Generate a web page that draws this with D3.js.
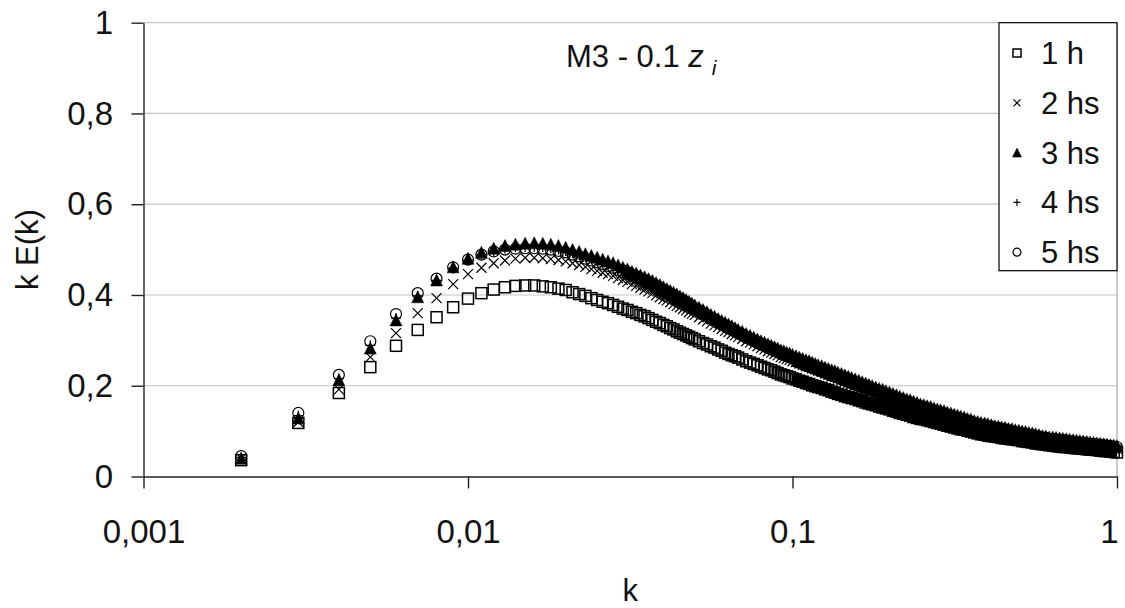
<!DOCTYPE html>
<html>
<head>
<meta charset="utf-8">
<script src="https://cdn.jsdelivr.net/npm/d3@7"></script>
<style>
  body { margin: 0; background: #fff; }
  svg { display: block; }
</style>
</head>
<body>
<div id="chart"></div>
<script>
// wavenumbers k (x axis)
const kVals = [
  0.002,0.003,0.004,0.005,0.006,0.007,0.008,0.009,0.010,0.011,0.012,0.013,0.014,0.015,0.016,0.017,0.018,0.019,0.020,
  0.021,0.022,0.023,0.024,0.025,0.026,0.027,0.028,0.029,
  0.030,0.031,0.032,0.033,0.034,0.035,0.036,0.037,0.038,0.039,0.040,0.041,0.042,0.043,0.044,0.045,0.046,0.047,0.048,0.049,0.050,
  0.0515,0.053,0.0545,0.056,0.0575,0.059,0.0605,0.062,0.0635,0.065,0.0665,0.068,
  0.070,0.072,0.074,0.076,0.078,0.080,0.082,0.084,0.086,0.088,0.090,0.092,0.094,0.096,0.098,0.100,
  0.1025,0.105,0.1075,0.110,0.1125,0.115,0.1175,0.120,
  0.123,0.126,0.129,0.132,0.135,0.138,
  0.1415,0.145,0.1485,0.152,
  0.156,0.160,0.164,0.168,0.172,0.176,
  0.1805,0.185,0.1895,0.194,0.199,0.204,0.209,0.214,0.2195,0.225,0.2305,0.236,0.242,0.248,0.254,0.260,0.2665,0.273,0.2795,0.286,0.293,0.300,
  0.3075,0.315,0.3225,0.330,0.338,0.346,0.3545,0.363,0.372,0.381,0.3905,0.400,0.410,0.420,0.4305,0.441,0.452,0.463,0.4745,0.486,
  0.498,0.510,0.5225,0.535,0.548,0.561,0.575,0.589,0.6035,0.618,0.6335,0.649,0.665,0.681,0.698,0.715,0.7325,0.750,0.7685,0.787,
  0.8065,0.826,0.8465,0.867,0.8885,0.910,0.9325,0.955,0.9775,1.000
];

// k E(k) for each time
const e1h = [
  0.036,0.118,0.184,0.241,0.288,0.323,0.351,0.373,0.392,0.404,0.412,0.417,0.420,0.421,0.421,0.419,0.417,0.414,0.411,
  0.406,0.402,0.398,0.393,0.389,0.385,0.382,0.378,0.374,
  0.370,0.367,0.363,0.360,0.356,0.353,0.349,0.345,0.341,0.338,0.334,0.331,0.327,0.324,0.320,0.317,0.314,0.311,0.308,0.305,0.302,
  0.298,0.294,0.291,0.287,0.284,0.280,0.277,0.273,0.270,0.267,0.265,0.262,
  0.258,0.254,0.251,0.248,0.245,0.242,0.239,0.236,0.234,0.231,0.228,0.225,0.223,0.221,0.219,0.216,
  0.214,0.211,0.209,0.206,0.204,0.201,0.199,0.197,
  0.195,0.192,0.190,0.187,0.185,0.182,
  0.180,0.177,0.175,0.173,
  0.171,0.168,0.166,0.163,0.161,0.159,
  0.157,0.154,0.152,0.150,0.148,0.145,0.143,0.140,0.138,0.136,0.134,0.131,0.129,0.127,0.126,0.124,0.122,0.120,0.118,0.116,0.114,0.112,
  0.110,0.108,0.106,0.104,0.103,0.101,0.099,0.097,0.095,0.093,0.092,0.090,0.089,0.088,0.087,0.085,0.084,0.083,0.082,0.081,
  0.080,0.078,0.077,0.076,0.075,0.073,0.072,0.071,0.070,0.069,0.068,0.067,0.066,0.065,0.065,0.064,0.063,0.062,0.062,0.061,
  0.060,0.059,0.059,0.058,0.057,0.056,0.056,0.055,0.054,0.053
];
const e2hs = [
  0.040,0.120,0.192,0.263,0.316,0.360,0.393,0.424,0.446,0.460,0.470,0.476,0.480,0.482,0.482,0.481,0.479,0.477,0.474,
  0.470,0.466,0.462,0.457,0.453,0.449,0.446,0.442,0.437,
  0.433,0.429,0.424,0.420,0.416,0.412,0.408,0.404,0.399,0.395,0.391,0.388,0.384,0.380,0.376,0.373,0.369,0.366,0.362,0.359,0.356,
  0.351,0.346,0.342,0.337,0.333,0.329,0.325,0.321,0.318,0.314,0.311,0.307,
  0.303,0.298,0.295,0.291,0.287,0.283,0.280,0.276,0.273,0.270,0.267,0.263,0.261,0.259,0.257,0.254,
  0.252,0.249,0.246,0.243,0.241,0.238,0.236,0.233,
  0.230,0.227,0.224,0.221,0.219,0.216,
  0.213,0.210,0.207,0.204,
  0.201,0.198,0.196,0.193,0.191,0.188,
  0.185,0.182,0.179,0.176,0.174,0.171,0.168,0.165,0.163,0.160,0.157,0.154,0.152,0.150,0.148,0.145,0.143,0.141,0.139,0.136,0.134,0.132,
  0.130,0.127,0.125,0.123,0.121,0.119,0.117,0.114,0.112,0.110,0.109,0.107,0.106,0.104,0.103,0.101,0.099,0.097,0.096,0.094,
  0.093,0.091,0.090,0.088,0.087,0.085,0.084,0.082,0.081,0.079,0.079,0.078,0.077,0.076,0.075,0.074,0.073,0.072,0.071,0.070,
  0.069,0.068,0.067,0.066,0.066,0.065,0.064,0.063,0.062,0.061
];
const e3hs = [
  0.040,0.129,0.213,0.283,0.345,0.396,0.433,0.462,0.481,0.494,0.503,0.509,0.512,0.514,0.515,0.514,0.512,0.509,0.505,
  0.500,0.496,0.491,0.487,0.483,0.479,0.475,0.471,0.466,
  0.461,0.457,0.452,0.448,0.444,0.440,0.436,0.432,0.427,0.423,0.418,0.414,0.410,0.406,0.402,0.398,0.394,0.390,0.386,0.382,0.378,
  0.373,0.368,0.363,0.357,0.353,0.348,0.344,0.340,0.336,0.332,0.328,0.324,
  0.320,0.315,0.311,0.307,0.303,0.299,0.296,0.292,0.289,0.286,0.283,0.279,0.277,0.274,0.272,0.269,
  0.266,0.263,0.260,0.257,0.255,0.252,0.249,0.246,
  0.244,0.241,0.238,0.235,0.233,0.230,
  0.227,0.224,0.221,0.218,
  0.215,0.212,0.209,0.206,0.203,0.200,
  0.197,0.194,0.192,0.189,0.186,0.183,0.180,0.177,0.174,0.171,0.169,0.166,0.163,0.160,0.158,0.156,0.154,0.151,0.149,0.147,0.145,0.142,
  0.140,0.137,0.135,0.133,0.131,0.128,0.126,0.123,0.121,0.119,0.118,0.116,0.114,0.112,0.111,0.109,0.108,0.106,0.105,0.103,
  0.102,0.100,0.099,0.097,0.096,0.094,0.092,0.090,0.089,0.087,0.087,0.086,0.085,0.084,0.083,0.082,0.081,0.080,0.079,0.078,
  0.077,0.076,0.075,0.074,0.073,0.072,0.071,0.070,0.069,0.068
];
const e4hs = [
  0.042,0.134,0.216,0.289,0.349,0.398,0.432,0.459,0.477,0.489,0.497,0.502,0.505,0.506,0.506,0.505,0.503,0.500,0.497,
  0.492,0.488,0.483,0.479,0.475,0.471,0.467,0.463,0.458,
  0.453,0.449,0.445,0.441,0.436,0.432,0.428,0.424,0.419,0.415,0.410,0.406,0.402,0.398,0.394,0.390,0.386,0.382,0.378,0.375,0.371,
  0.366,0.360,0.355,0.350,0.346,0.341,0.337,0.333,0.329,0.325,0.321,0.317,
  0.313,0.308,0.304,0.300,0.296,0.292,0.289,0.285,0.282,0.279,0.276,0.272,0.270,0.267,0.265,0.262,
  0.260,0.257,0.254,0.251,0.249,0.246,0.243,0.240,
  0.238,0.235,0.232,0.229,0.227,0.224,
  0.221,0.218,0.215,0.212,
  0.209,0.206,0.203,0.200,0.198,0.195,
  0.192,0.189,0.186,0.183,0.180,0.177,0.175,0.172,0.169,0.166,0.163,0.160,0.158,0.156,0.154,0.151,0.149,0.146,0.144,0.142,0.140,0.137,
  0.135,0.133,0.131,0.128,0.126,0.124,0.122,0.119,0.117,0.115,0.114,0.112,0.111,0.109,0.108,0.106,0.105,0.103,0.101,0.099,
  0.098,0.096,0.095,0.093,0.092,0.090,0.089,0.087,0.086,0.084,0.084,0.083,0.082,0.081,0.080,0.079,0.078,0.077,0.076,0.075,
  0.074,0.073,0.073,0.072,0.071,0.070,0.069,0.068,0.067,0.066
];
const e5hs = [
  0.045,0.140,0.224,0.298,0.358,0.404,0.436,0.461,0.478,0.489,0.496,0.500,0.502,0.503,0.503,0.502,0.500,0.497,0.494,
  0.489,0.485,0.480,0.476,0.472,0.468,0.464,0.460,0.455,
  0.450,0.446,0.442,0.438,0.433,0.429,0.425,0.421,0.416,0.412,0.407,0.403,0.399,0.395,0.391,0.388,0.384,0.380,0.376,0.373,0.369,
  0.364,0.358,0.353,0.348,0.344,0.339,0.335,0.331,0.327,0.323,0.319,0.315,
  0.311,0.306,0.302,0.298,0.294,0.290,0.287,0.283,0.280,0.277,0.274,0.270,0.268,0.265,0.263,0.260,
  0.258,0.255,0.252,0.249,0.247,0.244,0.241,0.238,
  0.236,0.233,0.230,0.227,0.225,0.222,
  0.219,0.216,0.213,0.210,
  0.207,0.204,0.201,0.198,0.196,0.193,
  0.190,0.187,0.185,0.182,0.179,0.176,0.174,0.171,0.168,0.165,0.162,0.159,0.157,0.155,0.153,0.150,0.148,0.145,0.143,0.141,0.139,0.136,
  0.134,0.132,0.130,0.127,0.125,0.123,0.121,0.118,0.116,0.114,0.113,0.111,0.110,0.108,0.107,0.105,0.104,0.102,0.100,0.098,
  0.097,0.095,0.094,0.092,0.091,0.089,0.088,0.086,0.085,0.083,0.083,0.082,0.081,0.080,0.079,0.078,0.077,0.076,0.075,0.074,
  0.073,0.072,0.072,0.071,0.070,0.069,0.068,0.067,0.066,0.065
];

const seriesNames = ['1 h', '2 hs', '3 hs', '4 hs', '5 hs'];
const seriesVals = [e1h, e2hs, e3hs, e4hs, e5hs];
const markerTypes = ['square', 'cross', 'triangle', 'plus', 'circle'];

const xTicks = [0.001, 0.01, 0.1, 1];
const yTicks = [0, 0.2, 0.4, 0.6, 0.8, 1];

const FONT = '"Liberation Sans", Arial, sans-serif';

// svg size
const width = 1125, height = 608;
const plot = { left: 143.5, right: 1117, top: 22.7, bottom: 476.5 };

const svg = d3.select('#chart').append('svg')
  .attr('width', width)
  .attr('height', height);

const x = d3.scaleLog().domain([0.001, 1]).range([plot.left, plot.right]);
const y = d3.scaleLinear().domain([0, 1]).range([plot.bottom, plot.top]);

// comma as decimal mark
const loc = d3.formatLocale({ decimal: ',', thousands: '.', grouping: [3], currency: ['', ''] });
const fmt = loc.format('.3~f');

// gridlines
svg.append('g').selectAll('line')
  .data(yTicks.filter(d => d > 0))
  .join('line')
  .attr('x1', plot.left).attr('x2', plot.right)
  .attr('y1', d => y(d)).attr('y2', d => y(d))
  .attr('stroke', '#c4c4c4').attr('stroke-width', 1.2);

// plot border right
svg.append('line')
  .attr('x1', plot.right).attr('x2', plot.right)
  .attr('y1', plot.top).attr('y2', plot.bottom)
  .attr('stroke', '#a8a8a8').attr('stroke-width', 1.2);

// axes
const yAxis = svg.append('g')
  .attr('transform', `translate(${plot.left},0)`)
  .call(d3.axisLeft(y).tickValues(yTicks).tickFormat(fmt).tickSizeInner(12).tickSizeOuter(0).tickPadding(18.5));

const xAxis = svg.append('g')
  .attr('transform', `translate(0,${plot.bottom})`)
  .call(d3.axisBottom(x).tickValues(xTicks).tickFormat(fmt).tickSizeInner(12).tickSizeOuter(0).tickPadding(31));

[yAxis, xAxis].forEach(g => {
  g.attr('font-family', FONT).attr('font-size', 33);
  g.selectAll('.domain').attr('stroke', '#222').attr('stroke-width', 1.4);
  g.selectAll('.tick line').attr('stroke', '#222').attr('stroke-width', 1.4);
  g.selectAll('.tick text').attr('fill', '#111');
});
// last x label sits inside the right edge
xAxis.selectAll('.tick text').filter(d => d === 1).attr('text-anchor', 'end').attr('x', 1);

// marker drawing
function drawMarker(g, type, s) {
  const h = s / 2;
  if (type === 'square') {
    g.append('rect').attr('x', -h).attr('y', -h).attr('width', s).attr('height', s)
      .attr('fill', 'none').attr('stroke', '#000').attr('stroke-width', 1.5);
  } else if (type === 'cross') {
    g.append('path').attr('d', `M${-h},${-h}L${h},${h}M${-h},${h}L${h},${-h}`)
      .attr('stroke', '#000').attr('stroke-width', 1.2).attr('fill', 'none');
  } else if (type === 'triangle') {
    g.append('path').attr('d', `M0,${-h}L${h},${h}L${-h},${h}Z`)
      .attr('fill', '#000').attr('stroke', '#000').attr('stroke-width', 0.5);
  } else if (type === 'plus') {
    g.append('path').attr('d', `M${-h},0H${h}M0,${-h}V${h}`)
      .attr('stroke', '#000').attr('stroke-width', 1.2).attr('fill', 'none');
  } else {
    g.append('circle').attr('r', h)
      .attr('fill', 'none').attr('stroke', '#000').attr('stroke-width', 1.2);
  }
}

const markerSize = { square: 11, cross: 10, triangle: 12, plus: 10, circle: 11 };
// where the markers of a series pile up into a solid run, and how thick that run is
const denseFrom = [0.1, 0.1, 0.03, 0.03, 0.03];
const denseWidth = [12, 11, 9, 8, 8];
const denseShift = [0, 0, 1.5, 1, 1];

const bandLine = d3.line().x(d => x(d[0])).y(d => y(d[1]));

seriesVals.forEach((vals, si) => {
  const g = svg.append('g').attr('class', 'series-' + si);
  const type = markerTypes[si];
  const s = markerSize[type];
  const dense = kVals.map((k, i) => [k, vals[i]]).filter(d => d[0] >= denseFrom[si]);
  g.append('path')
    .attr('d', bandLine(dense))
    .attr('transform', `translate(0,${denseShift[si]})`)
    .attr('fill', 'none').attr('stroke', '#000')
    .attr('stroke-width', denseWidth[si]);
  kVals.forEach((k, i) => {
    const m = g.append('g').attr('transform', `translate(${x(k)},${y(vals[i])})`);
    drawMarker(m, type, s);
  });
});

// legend
const legend = svg.append('g');
legend.append('rect')
  .attr('x', 999).attr('y', 22.7).attr('width', 118).attr('height', 248)
  .attr('fill', '#fff').attr('stroke', '#000').attr('stroke-width', 1.2);
const legendSize = { square: 8, cross: 7, triangle: 9, plus: 7, circle: 8 };
seriesNames.forEach((name, i) => {
  const cy = 53 + i * 49.8;
  const m = legend.append('g').attr('transform', `translate(1017,${cy})`);
  drawMarker(m, markerTypes[i], legendSize[markerTypes[i]]);
  legend.append('text')
    .attr('x', 1041).attr('y', cy + 11)
    .attr('font-family', FONT).attr('font-size', 31)
    .attr('fill', '#111')
    .text(name);
});

// annotation
const title = svg.append('text')
  .attr('x', 566).attr('y', 67)
  .attr('font-family', FONT).attr('font-size', 31)
  .attr('fill', '#111');
title.append('tspan').text('M3 - 0.1 ');
title.append('tspan').attr('font-style', 'italic').text('z');
title.append('tspan').attr('font-style', 'italic').attr('font-size', 21).attr('dx', 8).attr('dy', 8).text('i');

// axis titles
svg.append('text')
  .attr('transform', `translate(38,${(plot.top + plot.bottom) / 2}) rotate(-90)`)
  .attr('text-anchor', 'middle')
  .attr('font-family', FONT).attr('font-size', 31)
  .attr('fill', '#111')
  .text('k E(k)');

svg.append('text')
  .attr('x', (plot.left + plot.right) / 2).attr('y', 601)
  .attr('text-anchor', 'middle')
  .attr('font-family', FONT).attr('font-size', 31)
  .attr('fill', '#111')
  .text('k');
</script>
</body>
</html>
